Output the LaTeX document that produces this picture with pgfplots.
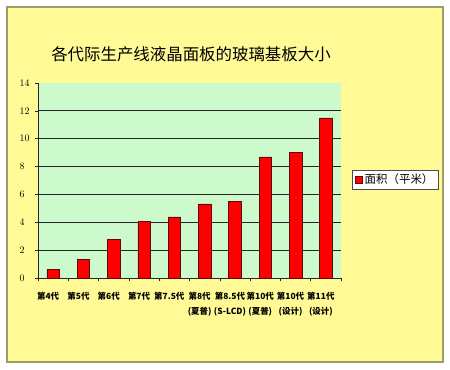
\documentclass[border=0pt]{standalone}
\usepackage{fontspec}
\setmainfont{Noto Sans CJK SC}
\usepackage{pgfplots}
\pgfplotsset{compat=1.18}
\definecolor{bgyellow}{RGB}{255,250,150}
\definecolor{plotgreen}{RGB}{204,250,204}
\definecolor{barred}{RGB}{255,0,0}
\definecolor{baredge}{RGB}{90,10,10}
\begin{document}
\begin{tikzpicture}[x=1bp,y=1bp]
\fill[white] (0,0) rectangle (450,369);
\filldraw[fill=bgyellow, draw=black!45!olive!60, line width=1.2bp] (7,7) rectangle (443,362);
\node[font=\fontsize{16.5}{18}\selectfont] at (191,315) {各代际生产线液晶面板的玻璃基板大小};
\begin{axis}[
  at={(38bp,91bp)}, anchor=south west, scale only axis,
  width=303bp, height=195bp,
  xmin=-0.5, xmax=9.5, ymin=0, ymax=14,
  axis x line*=bottom, axis y line*=left,
  axis line style={-, black!85, line width=0.8pt},
  axis background/.style={fill=plotgreen},
  ytick={0,2,...,14},
  xtick={0,...,9},
  xticklabels={第4代, 第5代, 第6代, 第7代, 第7.5代, 第8代\\(夏普), 第8.5代\\(S-LCD), 第10代\\(夏普), 第10代\\(设计), 第11代\\(设计)},
  xticklabel style={align=center, font=\bfseries\fontsize{8.5}{14.5}\selectfont, yshift=-8bp, xshift=-5bp},
  yticklabel style={font=\fontsize{10}{11}\selectfont, anchor=west, xshift=-19bp},
  major x tick style={draw=none},
  minor xtick={-0.5,0.5,...,9.5},
  tick align=outside,
  major tick length=3bp, minor tick length=3bp,
  tick style={black!85, line width=0.6pt},
  extra y ticks={2,4,...,12}, extra y tick labels={},
  extra y tick style={ymajorgrids=true, major tick style={draw=none}},
  y grid style={black!85, line width=0.9pt},
  legend style={at={(1.036,0.505)}, anchor=west, draw=black!70, fill=white,
    font=\fontsize{11.5}{12}\selectfont, inner xsep=3bp, inner ysep=2bp},
  legend image code/.code={\draw[fill=barred, draw=baredge] (0bp,-3.5bp) rectangle (7bp,3.5bp);},
]
\addplot[ybar, bar width=12.5bp, fill=barred, draw=baredge, line width=0.6pt]
  coordinates {(0,0.6) (1,1.35) (2,2.78) (3,4.08) (4,4.39) (5,5.32) (6,5.5) (7,8.69) (8,9.02) (9,11.5)};
\addlegendentry{面积（平米）}
\end{axis}
\end{tikzpicture}
\end{document}
